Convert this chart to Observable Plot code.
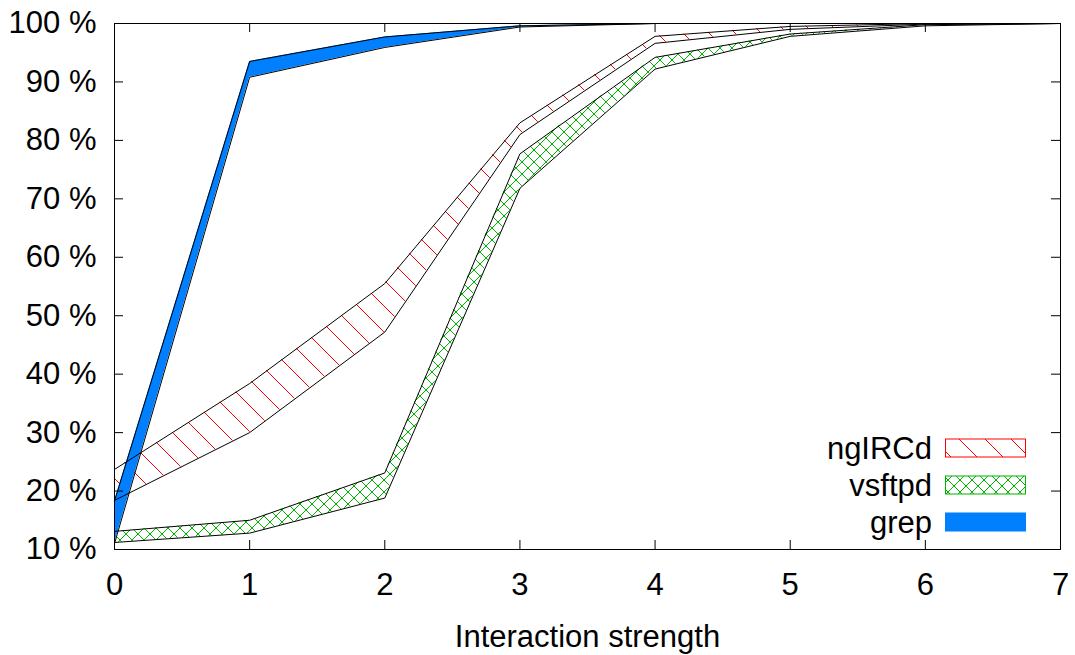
<!DOCTYPE html>
<html>
<head>
<meta charset="utf-8">
<script src="https://cdn.jsdelivr.net/npm/d3@7"></script>
<script src="https://cdn.jsdelivr.net/npm/@observablehq/plot@0.6"></script>
<style>
  html, body { margin: 0; padding: 0; background: #fff; }
  #wrap { position: relative; width: 1075px; height: 655px; }
  #legend { position: absolute; left: 0; top: 0; }
</style>
</head>
<body>
<div id="wrap"></div>
<script>
// ---- data ----
const strengths = [0, 1, 2, 3, 4, 5, 6, 7];
const ngircdLow  = [18.4, 30.0, 47.2, 81.0, 96.6, 99.0, 99.9, 100];
const ngircdHigh = [23.7, 38.4, 55.5, 83.0, 97.8, 99.5, 100, 100];
const vsftpdLow  = [11.2, 12.8, 18.8, 71.8, 92.2, 97.8, 99.6, 100];
const vsftpdHigh = [13.1, 15.0, 23.1, 77.7, 94.2, 98.2, 99.8, 100];
const grepLow    = [11.0, 90.8, 95.9, 99.4, 100, 100, 100, 100];
const grepHigh   = [18.3, 93.5, 97.7, 99.6, 100, 100, 100, 100];
const seriesNames = ["ngIRCd", "vsftpd", "grep"];
const xTicks = [0, 1, 2, 3, 4, 5, 6, 7];
const yTicks = [10, 20, 30, 40, 50, 60, 70, 80, 90, 100];
const xLabel = "Interaction strength";

// ---- build table ----
const lows = [ngircdLow, vsftpdLow, grepLow];
const highs = [ngircdHigh, vsftpdHigh, grepHigh];
const rows = [];
seriesNames.forEach((name, i) => {
  strengths.forEach((s, j) => rows.push({series: name, s, lo: lows[i][j], hi: highs[i][j]}));
});
const fills = {ngIRCd: "url(#hatch-red)", vsftpd: "url(#hatch-green)", grep: "#0080ff"};

const W = 1075, H = 655;
const mL = 114, mR = 15, mT = 23, mB = 106;
const fw = W - mL - mR, fh = H - mT - mB;
const tick = 9;

const drawOrder = ["ngIRCd", "vsftpd", "grep"];
const marks = [];
for (const name of drawOrder) {
  marks.push(Plot.areaY(rows.filter(d => d.series === name), {x: "s", y1: "lo", y2: "hi", fill: fills[name], stroke: "none"}));
}
for (const name of drawOrder) {
  const r = rows.filter(d => d.series === name);
  marks.push(Plot.line(r, {x: "s", y: "lo", stroke: "black", strokeWidth: 1}));
  marks.push(Plot.line(r, {x: "s", y: "hi", stroke: "black", strokeWidth: 1}));
}
marks.push(
  Plot.tickY(yTicks, {y: d => d, insetRight: fw - tick, stroke: "black"}),
  Plot.tickY(yTicks, {y: d => d, insetLeft: fw - tick, stroke: "black"}),
  Plot.tickX(xTicks, {x: d => d, insetTop: fh - tick, stroke: "black"}),
  Plot.tickX(xTicks, {x: d => d, insetBottom: fh - tick, stroke: "black"}),
  Plot.frame({stroke: "black", strokeWidth: 1}),
  Plot.axisY(yTicks, {tickSize: 0, tickPadding: 18, tickFormat: d => d + " %", label: null}),
  Plot.axisX(xTicks, {tickSize: 0, tickPadding: 23, tickFormat: d => String(d), label: xLabel, labelAnchor: "center", labelArrow: "none", labelOffset: 97})
);

const svg = Plot.plot({
  width: W, height: H,
  marginLeft: mL, marginRight: mR, marginTop: mT, marginBottom: mB,
  x: {domain: [0, 7]},
  y: {domain: [10, 100]},
  style: {fontFamily: "'Liberation Sans', Arial, sans-serif", fontSize: "31px", color: "black", background: "white"},
  marks
});

d3.select(svg).insert("defs", ":first-child").html(`
  <pattern id="hatch-red" patternUnits="userSpaceOnUse" width="26" height="26">
    <path d="M-1,-1L27,27M-1,25L1,27M25,-1L27,1" stroke="#ff0000" stroke-width="1" fill="none"/>
  </pattern>
  <pattern id="hatch-green" patternUnits="userSpaceOnUse" width="12" height="12">
    <path d="M-1,-1L13,13M13,-1L-1,13" stroke="#00b400" stroke-width="1" fill="none"/>
  </pattern>
`);
document.getElementById("wrap").appendChild(svg);

// ---- legend (inside plot area, bottom right) ----
const leg = d3.select("#wrap").append("svg").attr("id", "legend").attr("width", W).attr("height", H)
  .style("font-family", "'Liberation Sans', Arial, sans-serif").style("font-size", "31px");
const legStroke = {ngIRCd: "#ff0000", vsftpd: "#00b400", grep: "#0080ff"};
seriesNames.forEach((name, i) => {
  const cy = 448 + i * 37;
  leg.append("text").attr("x", 932).attr("y", cy).attr("dy", "0.35em").attr("text-anchor", "end").attr("fill", "black").text(name);
  leg.append("rect").attr("x", 945.5).attr("y", cy - 9).attr("width", 80).attr("height", 18)
    .attr("fill", fills[name]).attr("stroke", legStroke[name]).attr("stroke-width", 1);
});
</script>
</body>
</html>
